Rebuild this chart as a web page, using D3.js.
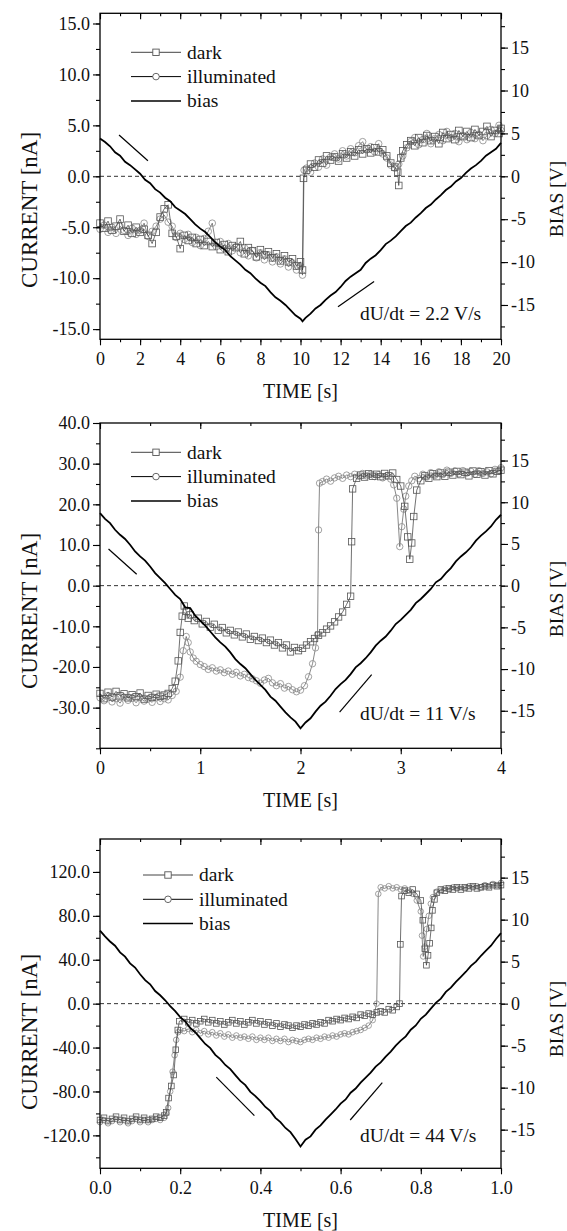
<!DOCTYPE html>
<html>
<head>
<meta charset="utf-8">
<script src="https://cdn.jsdelivr.net/npm/d3@7"></script>
<style>
  body { margin: 0; background: #fff; }
</style>
</head>
<body>
<div id="chart"></div>
<script>
// ---- panel 1 : dU/dt = 2.2 V/s ----  [time s, current nA]
const dark1 = [[0,-4.6],[0.2,-5.1],[0.4,-4.4],[0.6,-5.3],[0.8,-4.9],[1,-4.2],[1.2,-5.4],[1.4,-4.8],[1.6,-5.6],[1.8,-5.0],
  [2,-5.5],[2.2,-5.2],[2.4,-5.8],[2.6,-6.6],[2.8,-5.5],[3,-4.0],[3.2,-3.2],[3.4,-2.8],[3.6,-5.6],[3.8,-5.9],
  [4,-7.1],[4.2,-5.8],[4.4,-6.3],[4.6,-6.0],[4.8,-6.6],[5,-6.2],[5.2,-6.8],[5.4,-6.4],[5.6,-6.9],[5.8,-6.5],
  [6,-7.2],[6.2,-6.7],[6.4,-7.4],[6.6,-6.8],[6.8,-7.0],[7,-6.4],[7.2,-7.6],[7.4,-7.0],[7.6,-7.3],[7.8,-7.9],
  [8,-7.2],[8.2,-7.7],[8.4,-7.4],[8.6,-8.0],[8.8,-7.6],[9,-8.3],[9.2,-7.8],[9.4,-8.4],[9.6,-8.1],[9.8,-8.8],
  [10,-8.4],[10.1,-9.2],[10.15,-0.2],[10.3,0.6],[10.5,1.2],[10.7,0.9],[10.9,1.6],[11.1,1.3],[11.3,2.0],[11.5,1.6],
  [11.7,1.9],[11.9,1.5],[12.1,2.2],[12.3,1.8],[12.5,2.4],[12.7,2.0],[12.9,2.6],[13.1,2.2],[13.3,2.7],[13.5,2.3],
  [13.7,2.8],[13.9,2.4],[14.1,2.6],[14.3,2.0],[14.5,1.3],[14.7,0.9],[14.85,0.4],[14.9,-0.9],[15,1.8],[15.1,2.5],
  [15.3,3.1],[15.5,3.5],[15.7,3.0],[15.9,3.8],[16.1,3.3],[16.3,4.0],[16.5,3.5],[16.7,3.9],[16.9,3.2],[17.1,4.3],
  [17.3,3.7],[17.5,4.1],[17.7,3.6],[17.9,4.5],[18.1,3.9],[18.3,4.4],[18.5,3.8],[18.7,4.6],[18.9,4.0],[19.1,4.4],
  [19.3,4.9],[19.5,3.9],[19.7,4.5],[19.9,4.2],[20,4.7]];
const illum1 = [[0,-5.2],[0.2,-4.8],[0.4,-5.5],[0.6,-5.0],[0.8,-5.6],[1,-4.9],[1.2,-5.3],[1.4,-5.8],[1.6,-5.1],[1.8,-5.7],
  [2,-5.3],[2.2,-4.6],[2.4,-5.9],[2.6,-5.4],[2.8,-4.9],[3,-4.2],[3.2,-3.8],[3.4,-4.5],[3.6,-4.9],[3.8,-6.0],
  [4,-5.6],[4.2,-6.2],[4.4,-5.7],[4.6,-6.5],[4.8,-6.0],[5,-6.8],[5.2,-6.1],[5.4,-5.4],[5.6,-4.6],[5.8,-6.9],
  [6,-6.4],[6.2,-7.1],[6.4,-6.6],[6.6,-7.3],[6.8,-6.9],[7,-7.5],[7.2,-7.0],[7.4,-7.8],[7.6,-7.3],[7.8,-8.0],
  [8,-7.5],[8.2,-8.2],[8.4,-7.7],[8.6,-8.4],[8.8,-7.9],[9,-8.6],[9.2,-8.1],[9.4,-8.9],[9.6,-8.5],[9.8,-9.2],
  [10,-8.8],[10.1,-9.7],[10.18,0.6],[10.3,0.8],[10.5,0.4],[10.7,1.3],[10.9,0.9],[11.1,1.7],[11.3,1.1],[11.5,1.9],
  [11.7,2.2],[11.9,1.7],[12.1,2.5],[12.3,2.0],[12.5,2.7],[12.7,2.3],[12.9,3.0],[13.1,3.4],[13.3,2.6],[13.5,2.9],
  [13.7,2.4],[13.9,3.2],[14.1,2.2],[14.3,1.8],[14.5,1.1],[14.7,0.8],[14.9,1.2],[15.1,2.0],[15.3,2.8],[15.5,3.4],
  [15.7,3.8],[15.9,3.1],[16.1,3.6],[16.3,4.2],[16.5,3.2],[16.7,3.7],[16.9,4.1],[17.1,3.5],[17.3,4.4],[17.5,3.8],
  [17.7,4.2],[17.9,3.4],[18.1,4.0],[18.3,3.6],[18.5,4.3],[18.7,3.7],[18.9,4.1],[19.1,3.5],[19.3,4.0],[19.5,4.6],
  [19.7,4.2],[19.9,5.0],[20,4.5]];
// [time s, bias V]
const bias1 = [[0,4.4],[0.25,4.0],[0.5,3.5],[0.75,2.8],[1,2.4],[1.25,1.7],[1.5,1.3],[1.75,0.8],[2,0.3],[2.25,-0.4],
  [2.5,-0.8],[2.75,-1.5],[3,-1.9],[3.25,-2.5],[3.5,-2.9],[3.75,-3.6],[4,-4.0],[4.25,-4.4],[4.5,-5.0],[4.75,-5.6],
  [5,-6.1],[5.25,-6.5],[5.5,-7.1],[5.75,-7.7],[6,-8.2],[6.25,-8.6],[6.5,-9.3],[6.75,-9.8],[7,-10.3],[7.25,-10.9],
  [7.5,-11.3],[7.75,-11.9],[8,-12.4],[8.25,-12.8],[8.5,-13.5],[8.75,-14.1],[9,-14.5],[9.25,-15.0],[9.5,-15.6],[9.75,-16.2],
  [10,-16.6],[10.1,-16.9],[10.25,-16.5],[10.5,-16.0],[10.75,-15.4],[11,-15.0],[11.25,-14.4],[11.5,-13.9],[11.75,-13.5],[12,-12.9],
  [12.25,-12.2],[12.5,-11.7],[12.75,-11.3],[13,-10.9],[13.25,-10.1],[13.5,-9.6],[13.75,-9.2],[14,-8.6],[14.25,-7.9],[14.5,-7.5],
  [14.75,-7.0],[15,-6.4],[15.25,-5.8],[15.5,-5.4],[15.75,-4.8],[16,-4.3],[16.25,-3.7],[16.5,-3.3],[16.75,-2.7],[17,-2.2],
  [17.25,-1.6],[17.5,-1.2],[17.75,-0.6],[18,-0.2],[18.25,0.4],[18.5,0.9],[18.75,1.3],[19,1.8],[19.25,2.4],[19.5,2.8],
  [19.75,3.2],[20,3.9]];

// ---- panel 2 : dU/dt = 11 V/s ----
const dark2 = [[0,-26.5],[0.04,-27.8],[0.08,-26.2],[0.12,-27.4],[0.16,-26.0],[0.2,-27.1],[0.24,-26.6],[0.28,-27.6],[0.32,-26.8],[0.36,-27.3],
  [0.4,-26.4],[0.44,-27.9],[0.48,-27.0],[0.52,-27.5],[0.56,-26.7],[0.6,-27.2],[0.64,-26.9],[0.68,-26.5],[0.72,-25.3],[0.75,-23.5],
  [0.78,-18.5],[0.8,-11.5],[0.82,-7.5],[0.84,-5.0],[0.86,-6.3],[0.88,-8.0],[0.9,-7.2],[0.94,-8.6],[0.98,-8.0],[1.02,-9.4],
  [1.06,-8.8],[1.1,-10.2],[1.14,-9.5],[1.18,-11.0],[1.22,-10.3],[1.26,-11.6],[1.3,-11.0],[1.34,-12.1],[1.38,-11.4],[1.42,-12.6],
  [1.46,-11.9],[1.5,-13.2],[1.54,-12.5],[1.58,-13.5],[1.62,-12.9],[1.66,-14.0],[1.7,-13.4],[1.74,-14.6],[1.78,-14.0],[1.82,-15.3],
  [1.86,-14.6],[1.9,-16.3],[1.94,-15.2],[1.98,-16.0],[2.02,-15.4],[2.06,-14.6],[2.1,-13.8],[2.14,-13.0],[2.18,-12.2],[2.22,-11.6],
  [2.26,-10.7],[2.3,-9.9],[2.34,-8.9],[2.38,-7.7],[2.42,-6.5],[2.46,-4.6],[2.5,-2.6],[2.51,10.8],[2.52,23.8],[2.56,26.4],
  [2.6,27.2],[2.64,26.7],[2.68,27.5],[2.72,26.9],[2.76,27.4],[2.8,26.8],[2.84,27.6],[2.88,27.0],[2.92,27.7],[2.96,26.1],
  [3,24.5],[3.04,19.5],[3.07,12.0],[3.09,6.5],[3.11,10.5],[3.13,17.0],[3.16,23.5],[3.2,25.8],[3.24,27.0],[3.28,26.4],
  [3.32,27.5],[3.36,26.8],[3.4,27.7],[3.44,26.9],[3.48,27.9],[3.52,27.2],[3.56,28.1],[3.6,27.3],[3.64,27.9],[3.68,27.0],
  [3.72,28.2],[3.76,27.4],[3.8,28.0],[3.84,27.2],[3.88,28.3],[3.92,27.5],[3.96,28.1],[4,28.4]];
const illum2 = [[0,-27.6],[0.04,-28.3],[0.08,-27.0],[0.12,-28.6],[0.16,-27.8],[0.2,-28.9],[0.24,-27.4],[0.28,-28.2],[0.32,-27.7],[0.36,-28.8],
  [0.4,-27.5],[0.44,-28.4],[0.48,-27.9],[0.52,-28.7],[0.56,-27.6],[0.6,-28.5],[0.64,-27.8],[0.68,-28.1],[0.72,-27.0],[0.76,-26.0],
  [0.8,-22.5],[0.83,-16.0],[0.86,-12.5],[0.88,-14.0],[0.9,-16.3],[0.93,-17.8],[0.96,-18.6],[1,-19.4],[1.04,-19.9],[1.08,-20.6],
  [1.12,-20.2],[1.16,-21.0],[1.2,-20.7],[1.24,-21.4],[1.28,-21.0],[1.32,-21.8],[1.36,-21.3],[1.4,-22.2],[1.44,-21.8],[1.48,-22.6],
  [1.52,-22.9],[1.56,-23.4],[1.6,-24.0],[1.64,-23.2],[1.68,-22.8],[1.72,-23.9],[1.76,-24.6],[1.8,-24.1],[1.84,-25.2],[1.88,-24.8],
  [1.92,-25.6],[1.96,-26.1],[2,-25.7],[2.04,-24.6],[2.08,-22.4],[2.12,-19.2],[2.15,-15.3],[2.17,-12.0],[2.18,13.7],[2.19,25.2],
  [2.22,25.6],[2.26,26.2],[2.3,25.7],[2.34,26.5],[2.38,26.9],[2.42,26.4],[2.46,27.2],[2.5,26.8],[2.54,27.4],[2.58,26.9],
  [2.62,27.6],[2.66,27.0],[2.7,27.4],[2.74,26.8],[2.78,27.3],[2.82,26.5],[2.86,27.0],[2.9,26.2],[2.93,24.8],[2.96,21.5],
  [2.99,9.6],[3.01,14.5],[3.03,18.8],[3.05,22.0],[3.08,24.5],[3.11,25.8],[3.14,26.9],[3.18,26.3],[3.22,27.4],[3.26,26.7],
  [3.3,27.8],[3.34,27.1],[3.38,28.0],[3.42,27.3],[3.46,28.4],[3.5,27.6],[3.54,28.2],[3.58,27.5],[3.62,28.3],[3.66,27.7],
  [3.7,28.1],[3.74,27.4],[3.78,28.3],[3.82,27.6],[3.86,28.0],[3.9,27.5],[3.94,28.6],[3.98,28.2],[4,29.0]];
const bias2 = [[0,8.7],[0.05,8.0],[0.1,7.5],[0.15,6.7],[0.2,6.1],[0.25,5.6],[0.3,4.9],[0.35,4.1],[0.4,3.5],[0.45,3.0],
  [0.5,2.3],[0.55,1.5],[0.6,0.9],[0.65,0.3],[0.7,-0.4],[0.75,-1.1],[0.8,-1.6],[0.85,-2.6],[0.9,-2.7],[0.95,-3.6],
  [1,-4.2],[1.05,-4.8],[1.1,-5.5],[1.15,-6.2],[1.2,-6.8],[1.25,-7.3],[1.3,-8.0],[1.35,-8.8],[1.4,-9.4],[1.45,-9.9],
  [1.5,-10.6],[1.55,-11.3],[1.6,-11.9],[1.65,-12.5],[1.7,-13.3],[1.75,-13.8],[1.8,-14.5],[1.85,-15.2],[1.9,-15.8],[1.95,-16.3],
  [2,-17.1],[2.05,-16.4],[2.1,-15.9],[2.15,-15.1],[2.2,-14.4],[2.25,-13.9],[2.3,-13.2],[2.35,-12.4],[2.4,-11.8],[2.45,-11.3],
  [2.5,-10.6],[2.55,-9.8],[2.6,-9.3],[2.65,-8.7],[2.7,-8.0],[2.75,-7.2],[2.8,-6.6],[2.85,-6.1],[2.9,-5.4],[2.95,-4.6],
  [3,-4.1],[3.05,-3.5],[3.1,-2.9],[3.15,-2.1],[3.2,-1.6],[3.25,-1.0],[3.3,-0.4],[3.35,0.4],[3.4,0.8],[3.45,1.5],
  [3.5,2.1],[3.55,2.9],[3.6,3.5],[3.65,4.0],[3.7,4.6],[3.75,5.4],[3.8,6.0],[3.85,6.5],[3.9,7.1],[3.95,7.9],[4,8.5]];

// ---- panel 3 : dU/dt = 44 V/s ----
const dark3 = [[0,-106],[0.01,-104],[0.02,-107],[0.03,-105],[0.04,-103],[0.05,-106],[0.06,-104],[0.07,-107],[0.08,-105],[0.09,-103],
  [0.1,-106],[0.11,-104],[0.12,-106],[0.13,-105],[0.14,-103],[0.15,-104],[0.16,-102],[0.165,-99],[0.171,-86],[0.178,-75],
  [0.184,-65],[0.189,-42],[0.194,-24],[0.198,-16],[0.21,-14],[0.22,-17],[0.23,-15],[0.24,-18],[0.25,-16],[0.26,-14],
  [0.27,-17],[0.28,-15],[0.29,-18],[0.3,-16],[0.31,-19],[0.32,-17],[0.33,-15],[0.34,-18],[0.35,-16],[0.36,-19],
  [0.37,-17],[0.38,-15],[0.39,-18],[0.4,-16],[0.41,-19],[0.42,-17],[0.43,-20],[0.44,-18],[0.45,-21],[0.46,-19],
  [0.47,-20],[0.48,-22],[0.49,-20],[0.5,-21],[0.51,-19],[0.52,-20],[0.53,-18],[0.54,-19],[0.55,-17],[0.56,-18],
  [0.57,-15],[0.58,-16],[0.59,-14],[0.6,-15],[0.61,-13],[0.62,-14],[0.63,-12],[0.64,-13],[0.65,-10],[0.66,-11],
  [0.67,-9],[0.68,-10],[0.69,-8],[0.7,-7],[0.71,-8],[0.72,-5],[0.73,-6],[0.74,-3],[0.747,0],[0.749,54],
  [0.752,98],[0.76,103],[0.77,101],[0.78,104],[0.79,100],[0.8,94],[0.805,76],[0.81,50],[0.814,35],[0.818,44],
  [0.822,55],[0.826,69],[0.829,85],[0.834,95],[0.84,101],[0.85,104],[0.86,103],[0.87,105],[0.88,104],[0.89,106],
  [0.9,104],[0.91,106],[0.92,105],[0.93,107],[0.94,105],[0.95,106],[0.96,107],[0.97,106],[0.98,108],[0.99,107],[1,108]];
const illum3 = [[0,-108],[0.01,-106],[0.02,-109],[0.03,-107],[0.04,-105],[0.05,-108],[0.06,-106],[0.07,-109],[0.08,-107],[0.09,-105],
  [0.1,-108],[0.11,-106],[0.12,-108],[0.13,-106],[0.14,-105],[0.15,-106],[0.16,-104],[0.165,-100],[0.17,-95],[0.175,-80],
  [0.181,-62],[0.186,-47],[0.19,-33],[0.195,-26],[0.2,-24],[0.21,-25],[0.22,-23],[0.23,-26],[0.24,-24],[0.25,-27],
  [0.26,-25],[0.27,-28],[0.28,-26],[0.29,-29],[0.3,-27],[0.31,-30],[0.32,-28],[0.33,-31],[0.34,-29],[0.35,-31],
  [0.36,-30],[0.37,-32],[0.38,-30],[0.39,-33],[0.4,-31],[0.41,-33],[0.42,-31],[0.43,-34],[0.44,-32],[0.45,-34],
  [0.46,-32],[0.47,-35],[0.48,-33],[0.49,-34],[0.5,-35],[0.51,-33],[0.52,-32],[0.53,-33],[0.54,-31],[0.55,-32],
  [0.56,-30],[0.57,-31],[0.58,-29],[0.59,-30],[0.6,-28],[0.61,-27],[0.62,-28],[0.63,-26],[0.64,-25],[0.65,-24],
  [0.66,-22],[0.67,-20],[0.68,-15],[0.69,0],[0.694,100],[0.7,106],[0.71,105],[0.72,107],[0.73,105],[0.74,106],
  [0.75,104],[0.76,105],[0.77,103],[0.78,100],[0.79,94],[0.8,84],[0.803,62],[0.806,43],[0.81,52],[0.815,68],
  [0.82,80],[0.825,91],[0.83,97],[0.84,102],[0.85,103],[0.86,105],[0.87,104],[0.88,106],[0.89,105],[0.9,106],
  [0.91,105],[0.92,107],[0.93,106],[0.94,107],[0.95,106],[0.96,108],[0.97,107],[0.98,109],[0.99,108],[1,110]];
const bias3 = [[0,8.7],[0.0125,8.0],[0.025,7.4],[0.0375,6.9],[0.05,6.1],[0.0625,5.6],[0.075,4.8],[0.0875,4.3],[0.1,3.5],[0.1125,2.8],
  [0.125,2.3],[0.1375,1.5],[0.15,1.0],[0.1625,0.4],[0.175,-0.3],[0.1875,-0.9],[0.2,-1.6],[0.2125,-2.1],[0.225,-2.9],[0.2375,-3.4],
  [0.25,-4.1],[0.2625,-4.8],[0.275,-5.3],[0.2875,-6.1],[0.3,-6.6],[0.3125,-7.3],[0.325,-7.8],[0.3375,-8.5],[0.35,-9.2],[0.3625,-9.7],
  [0.375,-10.5],[0.3875,-11.0],[0.4,-11.6],[0.4125,-12.3],[0.425,-12.8],[0.4375,-13.6],[0.45,-14.1],[0.4625,-14.8],[0.475,-15.3],[0.4875,-16.1],
  [0.5,-17.0],[0.5125,-16.2],[0.525,-15.8],[0.5375,-15.0],[0.55,-14.5],[0.5625,-13.8],[0.575,-13.2],[0.5875,-12.6],[0.6,-11.9],[0.6125,-11.4],
  [0.625,-10.6],[0.6375,-10.1],[0.65,-9.4],[0.6625,-8.8],[0.675,-8.2],[0.6875,-7.5],[0.7,-7.0],[0.7125,-6.3],[0.725,-5.7],[0.7375,-5.0],
  [0.75,-4.4],[0.7625,-3.9],[0.775,-3.1],[0.7875,-2.6],[0.8,-1.8],[0.8125,-1.3],[0.825,-0.6],[0.8375,0.1],[0.85,0.6],[0.8625,1.4],
  [0.875,1.9],[0.8875,2.6],[0.9,3.2],[0.9125,3.8],[0.925,4.5],[0.9375,5.0],[0.95,5.7],[0.9625,6.3],[0.975,6.9],[0.9875,7.7],[1,8.4]];

// tick labels
const xTicks1 = [0, 2, 4, 6, 8, 10, 12, 14, 16, 18, 20];
const xTicks2 = [0, 1, 2, 3, 4];
const xTicks3 = [0, 0.2, 0.4, 0.6, 0.8, 1.0];
const yTicks1 = [-15, -10, -5, 0, 5, 10, 15];
const yTicks2 = [-30, -20, -10, 0, 10, 20, 30, 40];
const yTicks3 = [-120, -80, -40, 0, 40, 80, 120];
const biasTicks = [-15, -10, -5, 0, 5, 10, 15];
const legendNames = ["dark", "illuminated", "bias"];
const rateLabels = ["dU/dt = 2.2 V/s", "dU/dt = 11 V/s", "dU/dt = 44 V/s"];
// direction arrows [t0, I0, t1, I1]
const arrows1 = [[0.95, 4.05, 2.39, 1.53], [11.87, -12.8, 13.67, -10.33]];
const arrows2 = [[0.085, 9.0, 0.366, 2.8], [2.39, -31.1, 2.71, -21.9]];
const arrows3 = [[0.29, -67, 0.385, -102], [0.624, -106, 0.704, -72]];

const W = 567, H = 1231, L = 100, R = 501;
const FONT = "'Liberation Serif'";
const svg = d3.select("#chart").append("svg").attr("width", W).attr("height", H)
  .style("font-family", FONT);

const panels = [
  { top: 13.3, bottom: 339.3, xDomain: [0, 20], xTicks: xTicks1, xMinor: 1, xFmt: d => String(d),
    yDomain: [-16, 16], yTicks: yTicks1, yMinor: 2.5, biasDomain: [-19, 19],
    dark: dark1, illum: illum1, bias: bias1, arrows: arrows1, rate: rateLabels[0], rateY: 320,
    legX: 131, legY: 39, mk: 3.3, curY: 210, biasY: 199 },
  { top: 423, bottom: 748.3, xDomain: [0, 4], xTicks: xTicks2, xMinor: 0.5, xFmt: d => String(d),
    yDomain: [-40, 40], yTicks: yTicks2, yMinor: 5, biasDomain: [-19.5, 19.5],
    dark: dark2, illum: illum2, bias: bias2, arrows: arrows2, rate: rateLabels[1], rateY: 720,
    legX: 131, legY: 29.3, mk: 3.2, curY: 611, biasY: 599 },
  { top: 839, bottom: 1168.3, xDomain: [0, 1], xTicks: xTicks3, xMinor: 0.1, xFmt: d => d.toFixed(1),
    yDomain: [-150, 150], yTicks: yTicks3, yMinor: 20, biasDomain: [-19.6, 19.6],
    dark: dark3, illum: illum3, bias: bias3, arrows: arrows3, rate: rateLabels[2], rateY: 1142,
    legX: 143, legY: 36, mk: 2.8, curY: 1032, biasY: 1019 }
];

const darkCol = "#555", illumCol = "#8a8a8a";

function styleAxis(g) {
  g.attr("font-size", 18).attr("font-family", null);
  g.select(".domain").remove();
  g.selectAll(".tick line").attr("stroke", "#000").attr("stroke-width", 1.1);
  g.selectAll(".tick text").attr("fill", "#111").attr("font-family", "Liberation Serif");
}

function addText(g, str, size) {
  return g.append("text").attr("font-family", "Liberation Serif").attr("font-size", size)
    .attr("fill", "#111").text(str);
}

function drawPanel(p) {
  const x = d3.scaleLinear().domain(p.xDomain).range([L, R]);
  const y = d3.scaleLinear().domain(p.yDomain).range([p.bottom, p.top]);
  const yb = d3.scaleLinear().domain(p.biasDomain).range([p.bottom, p.top]);
  const g = svg.append("g");

  // zero line
  g.append("line")
    .attr("x1", L).attr("x2", R).attr("y1", y(0)).attr("y2", y(0))
    .attr("stroke", "#333").attr("stroke-width", 1).attr("stroke-dasharray", "4,3");

  const curLine = d3.line().x(d => x(d[0])).y(d => y(d[1]));
  const s = p.mk;

  // illuminated: circles
  g.append("path").datum(p.illum).attr("d", curLine)
    .attr("fill", "none").attr("stroke", "#555").attr("stroke-width", 0.7);
  g.selectAll(".ci").data(p.illum).enter().append("circle")
    .attr("cx", d => x(d[0])).attr("cy", d => y(d[1])).attr("r", s)
    .attr("fill", "none").attr("stroke", illumCol).attr("stroke-width", 0.8);

  // dark: squares
  g.append("path").datum(p.dark).attr("d", curLine)
    .attr("fill", "none").attr("stroke", "#333").attr("stroke-width", 0.7);
  g.selectAll(".sq").data(p.dark).enter().append("rect")
    .attr("x", d => x(d[0]) - s).attr("y", d => y(d[1]) - s)
    .attr("width", 2 * s).attr("height", 2 * s)
    .attr("fill", "none").attr("stroke", darkCol).attr("stroke-width", 0.8);

  // bias
  g.append("path").datum(p.bias)
    .attr("d", d3.line().x(d => x(d[0])).y(d => yb(d[1])))
    .attr("fill", "none").attr("stroke", "#000").attr("stroke-width", 1.8);

  // arrows
  g.selectAll(".arr").data(p.arrows).enter().append("line")
    .attr("x1", d => x(d[0])).attr("y1", d => y(d[1]))
    .attr("x2", d => x(d[2])).attr("y2", d => y(d[3]))
    .attr("stroke", "#000").attr("stroke-width", 1.2);

  // axes
  const xMinorVals = d3.range(p.xDomain[0], p.xDomain[1] + 1e-9, p.xMinor);
  const yMinorVals = d3.range(Math.ceil(p.yDomain[0] / p.yMinor) * p.yMinor, p.yDomain[1] + 1e-9, p.yMinor);
  const bMinorVals = d3.range(-17.5, 17.6, 2.5);

  styleAxis(g.append("g").attr("transform", `translate(0,${p.bottom})`)
    .call(d3.axisBottom(x).tickValues(p.xTicks).tickFormat(p.xFmt).tickSize(6).tickPadding(7)));
  styleAxis(g.append("g").attr("transform", `translate(0,${p.bottom})`)
    .call(d3.axisBottom(x).tickValues(xMinorVals).tickFormat("").tickSize(3)));
  styleAxis(g.append("g").attr("transform", `translate(0,${p.top})`)
    .call(d3.axisTop(x).tickValues(p.xTicks).tickFormat("").tickSize(-6)));
  styleAxis(g.append("g").attr("transform", `translate(0,${p.top})`)
    .call(d3.axisTop(x).tickValues(xMinorVals).tickFormat("").tickSize(-3)));

  styleAxis(g.append("g").attr("transform", `translate(${L},0)`)
    .call(d3.axisLeft(y).tickValues(p.yTicks).tickFormat(d => d.toFixed(1)).tickSize(7).tickPadding(3)));
  styleAxis(g.append("g").attr("transform", `translate(${L},0)`)
    .call(d3.axisLeft(y).tickValues(yMinorVals).tickFormat("").tickSize(4)));

  styleAxis(g.append("g").attr("transform", `translate(${R},0)`)
    .call(d3.axisRight(yb).tickValues(biasTicks).tickFormat(d => String(d)).tickSize(7).tickPadding(3)));
  styleAxis(g.append("g").attr("transform", `translate(${R},0)`)
    .call(d3.axisRight(yb).tickValues(bMinorVals).tickFormat("").tickSize(4)));

  // frame
  g.append("rect").attr("x", L).attr("y", p.top)
    .attr("width", R - L).attr("height", p.bottom - p.top)
    .attr("fill", "none").attr("stroke", "#000").attr("stroke-width", 1.3);

  // legend
  const leg = g.append("g").attr("transform", `translate(${p.legX},${p.top + p.legY})`);
  legendNames.forEach((name, i) => {
    const ly = i * 24.3;
    leg.append("line").attr("x1", 0).attr("x2", 50).attr("y1", ly).attr("y2", ly)
      .attr("stroke", i === 0 ? "#444" : "#000").attr("stroke-width", i === 2 ? 1.5 : 1);
    if (i === 0) {
      leg.append("rect").attr("x", 25 - 3.2).attr("y", ly - 3.2).attr("width", 6.4).attr("height", 6.4)
        .attr("fill", "#fff").attr("stroke", darkCol).attr("stroke-width", 0.9);
    } else if (i === 1) {
      leg.append("circle").attr("cx", 25).attr("cy", ly).attr("r", 3.3)
        .attr("fill", "#fff").attr("stroke", "#555").attr("stroke-width", 0.9);
    }
    addText(leg, name, 19.5).attr("x", 56).attr("y", ly).attr("dy", "0.32em");
  });

  // rate label
  addText(g, p.rate, 19.5).attr("x", 360).attr("y", p.rateY);

  // axis titles
  addText(g, "TIME [s]", 20).attr("x", (L + R) / 2).attr("y", p.bottom + 59)
    .attr("text-anchor", "middle");
  addText(g, "CURRENT [nA]", 23).attr("transform", `translate(29,${p.curY}) rotate(-90)`)
    .attr("text-anchor", "middle").attr("dy", "0.35em");
  addText(g, "BIAS [V]", 19.5).attr("transform", `translate(556,${p.biasY}) rotate(-90)`)
    .attr("text-anchor", "middle").attr("dy", "0.35em");
}

panels.forEach(drawPanel);
</script>
</body>
</html>
